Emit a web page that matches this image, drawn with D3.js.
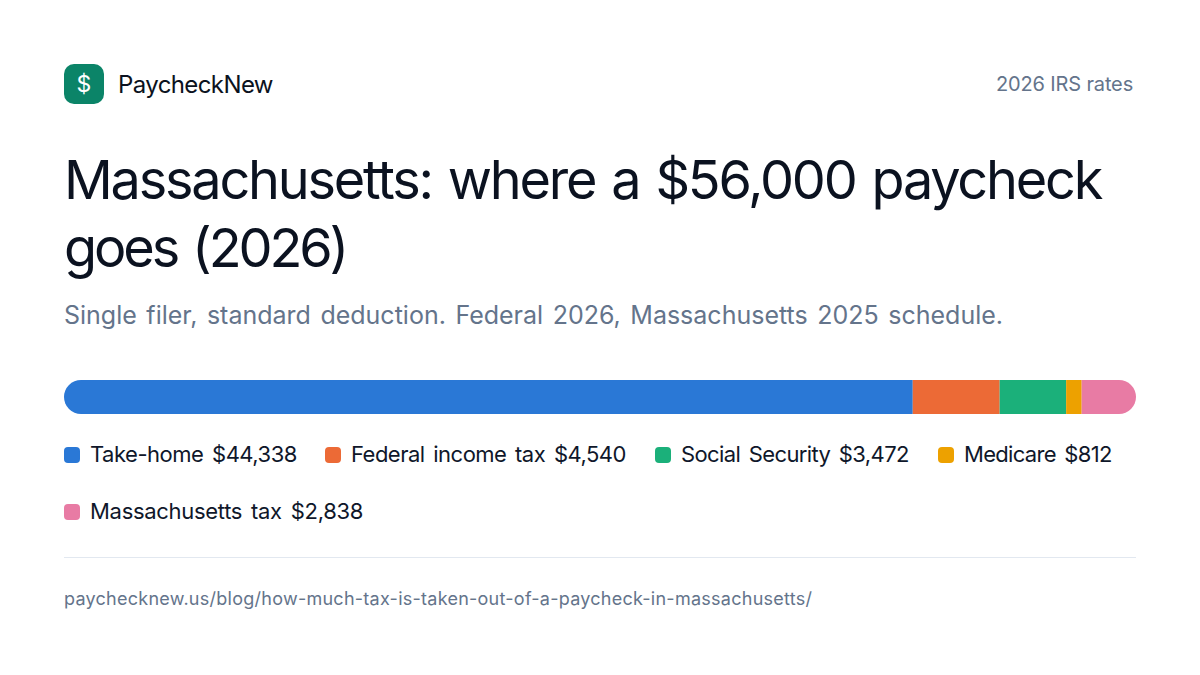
<!DOCTYPE html>
<html><head><meta charset="utf-8">
<script src="https://cdn.jsdelivr.net/npm/d3@7/dist/d3.min.js"></script>
<style>html,body{margin:0;background:#fff}svg{display:block}text{font-family:Inter,sans-serif}</style>
</head><body><svg id="c" width="1200" height="675"></svg>
<script>
const categories=["Take-home","Federal income tax","Social Security","Medicare","Massachusetts tax"];
const values=[44338,4540,3472,812,2838];
const valueLabels=["$44,338","$4,540","$3,472","$812","$2,838"];
const colors=["#2a78d6","#ec6a36","#1bb07a","#eda100","#e87ba4"];
const titleLines=["Massachusetts: where a $56,000 paycheck","goes (2026)"];
const svg=d3.select("#c");
const T=(x,y,s,size,fill,o={})=>{
 const t=svg.append("text").attr("x",x).attr("y",y).attr("font-size",size).attr("fill",fill)
  .attr("text-anchor",o.anchor||"start").attr("letter-spacing",o.ls||0).attr("word-spacing",o.ws||0).text(s);
 if(o.w) t.attr("textLength",o.w).attr("lengthAdjust","spacing");
 return t;
};
svg.append("rect").attr("x",64).attr("y",64).attr("width",40).attr("height",40).attr("rx",10).attr("fill","#0b8468");
T(84,92,"$",23,"#fff",{anchor:"middle"}).attr("font-weight",400);
T(118,93,"PaycheckNew",24,"#0b1220",{ls:-0.5,w:155});
T(996,91,"2026 IRS rates",20,"#64748b",{ls:-0.2,w:137});
const titleW=[1037,283];
titleLines.forEach((l,i)=>T(64,199+i*68,l,54,"#0b1220",{ls:-2.3,ws:3,w:titleW[i]}));
T(64,324,"Single filer, standard deduction. Federal 2026, Massachusetts 2025 schedule.",25,"#64748b",{ws:2.5,w:939});
const x=d3.scaleLinear().domain([0,d3.sum(values)]).range([64,1136]);
svg.append("defs").append("clipPath").attr("id","bar")
 .append("rect").attr("x",64).attr("y",380).attr("width",1072).attr("height",34).attr("rx",17);
let cum=0;const stacked=values.map(v=>{const s={a:cum,b:cum+v};cum+=v;return s;});
svg.append("g").attr("clip-path","url(#bar)").selectAll("rect").data(stacked).join("rect")
 .attr("x",d=>x(d.a)).attr("y",380).attr("width",d=>x(d.b)-x(d.a)).attr("height",34).attr("fill",(d,i)=>colors[i]);
const legendX=[64,325,655,938,64],legendY=[455,455,455,455,512],legendW=[207,275,228,148,273];
categories.forEach((c,i)=>{
 svg.append("rect").attr("x",legendX[i]).attr("y",legendY[i]-8).attr("width",16).attr("height",16).attr("rx",4).attr("fill",colors[i]);
 T(legendX[i]+26,legendY[i]+7,c+" "+valueLabels[i],22,"#0f172a",{ls:-0.4,ws:3,w:legendW[i]});
});
svg.append("line").attr("x1",64).attr("x2",1136).attr("y1",557.5).attr("y2",557.5).attr("stroke","#e2e8f0");
T(64,605,"paychecknew.us/blog/how-much-tax-is-taken-out-of-a-paycheck-in-massachusetts/",18,"#64748b",{w:748});
</script></body></html>
